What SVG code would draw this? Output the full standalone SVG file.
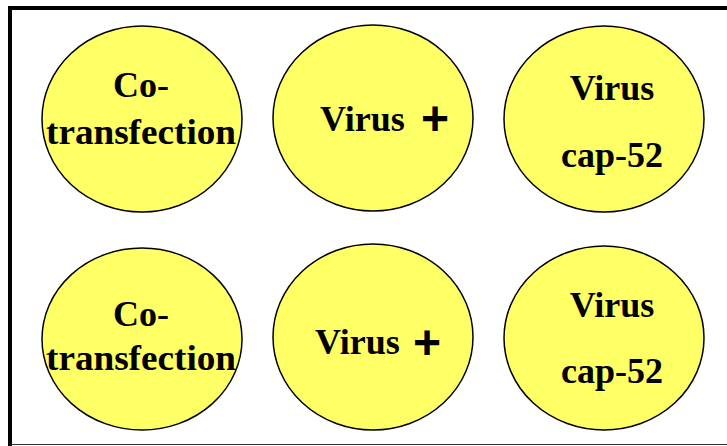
<svg xmlns="http://www.w3.org/2000/svg" width="727" height="446" viewBox="0 0 727 446">
<style>
.well{fill:#FFFF66;stroke:#000;stroke-width:1.5}
.t{font-family:"Liberation Serif","Times New Roman",serif;font-weight:bold;font-size:36px;fill:#000}
.c{text-anchor:middle}
.p{font-family:"Liberation Sans",Arial,sans-serif;font-weight:bold;font-size:48px}
</style>
<rect width="727" height="446" fill="#fff"/>
<g id="frame">
<line x1="10" y1="6" x2="10" y2="446" stroke="#000" stroke-width="4"/>
<line x1="8" y1="8" x2="727" y2="8" stroke="#000" stroke-width="4"/>
<line x1="10" y1="444.5" x2="727" y2="444.5" stroke="#333" stroke-width="1.2"/>
</g>
<g id="connectors"></g>
<g id="well-1">
<ellipse class="well" cx="142" cy="119" rx="100" ry="93"/>
<text class="t c" x="141" y="97">Co-</text>
<text class="t c" x="141" y="144" textLength="190" lengthAdjust="spacingAndGlyphs">transfection</text>
</g>
<g id="well-2">
<ellipse class="well" cx="373" cy="118" rx="100" ry="93"/>
<text class="t" x="320" y="131">Virus <tspan class="p" x="421" y="135">+</tspan></text>
</g>
<g id="well-3">
<ellipse class="well" cx="604" cy="119" rx="100" ry="93"/>
<text class="t c" x="612" y="100">Virus</text>
<text class="t c" x="612" y="167">cap-52</text>
</g>
<g id="well-4">
<ellipse class="well" cx="142" cy="339" rx="100" ry="91"/>
<text class="t c" x="141" y="326">Co-</text>
<text class="t c" x="141" y="370" textLength="190" lengthAdjust="spacingAndGlyphs">transfection</text>
</g>
<g id="well-5">
<ellipse class="well" cx="373" cy="337" rx="100" ry="93"/>
<text class="t" x="315" y="354">Virus <tspan class="p" x="413" y="359">+</tspan></text>
</g>
<g id="well-6">
<ellipse class="well" cx="604" cy="338" rx="100" ry="92"/>
<text class="t c" x="612" y="317">Virus</text>
<text class="t c" x="612" y="383">cap-52</text>
</g>
</svg>
